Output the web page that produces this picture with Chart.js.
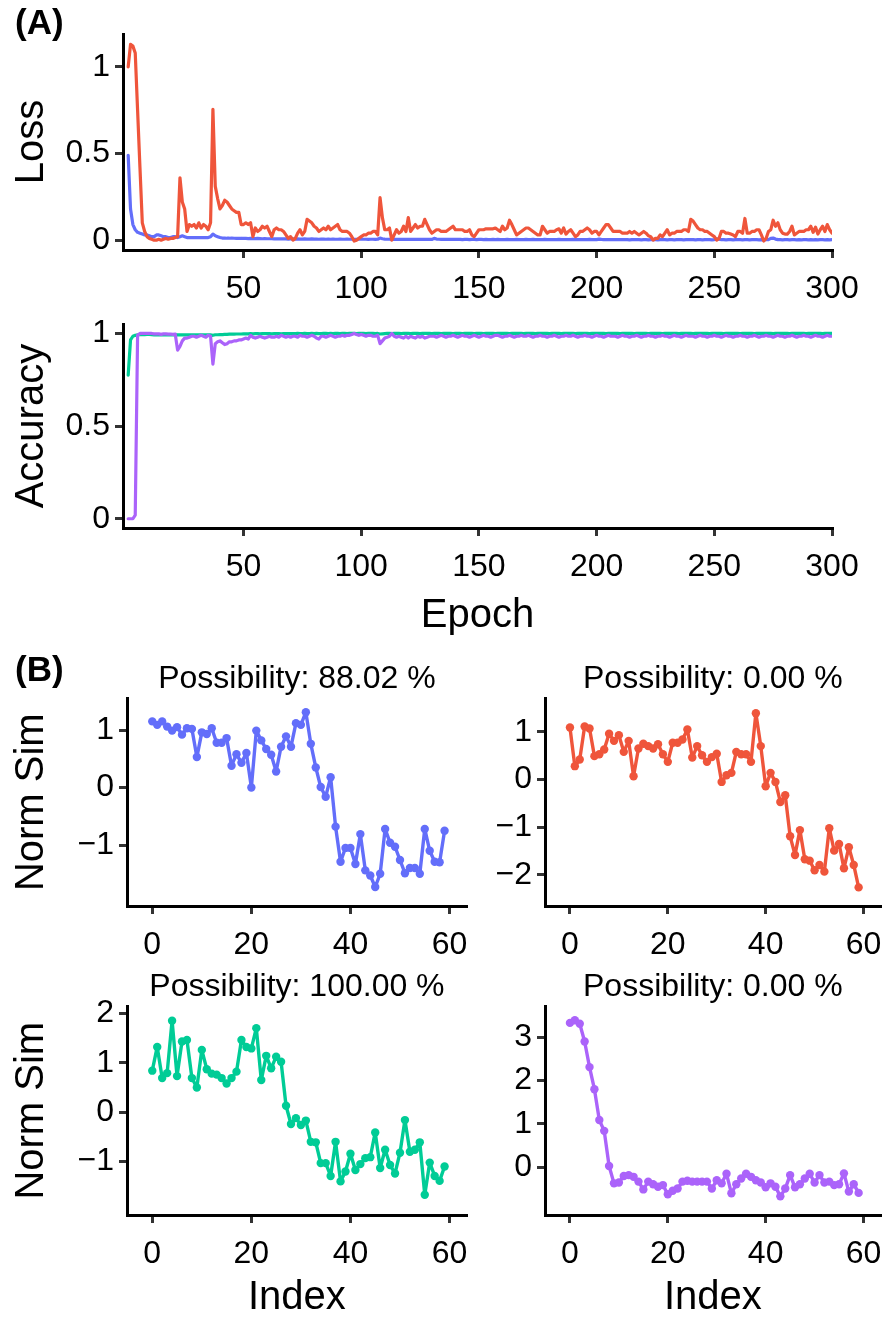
<!DOCTYPE html>
<html>
<head>
<meta charset="utf-8">
<script src="https://cdn.jsdelivr.net/npm/chart.js@4.4.1/dist/chart.umd.min.js"></script>
<style>
  html, body { margin: 0; padding: 0; background: #fff; }
  body { width: 894px; height: 1322px; position: relative; overflow: hidden; font-family: 'Liberation Sans', Arial, sans-serif; }
  canvas { position: absolute; }
  .tag { position: absolute; font-weight: bold; font-size: 35px; line-height: 35px; color: #000; z-index: 2; }
</style>
</head>
<body>
<canvas id="lossChart" width="894" height="300" style="left:0;top:0"></canvas>
<canvas id="accChart" width="894" height="340" style="left:0;top:300px"></canvas>
<canvas id="simChart1" width="480" height="320" style="left:0;top:640px"></canvas>
<canvas id="simChart2" width="414" height="320" style="left:480px;top:640px"></canvas>
<canvas id="simChart3" width="480" height="362" style="left:0;top:960px"></canvas>
<canvas id="simChart4" width="414" height="362" style="left:480px;top:960px"></canvas>
<div class="tag" style="left:15px;top:4px">(A)</div>
<div class="tag" style="left:15px;top:651px">(B)</div>
<script>
// (A) 学習曲線: エポックごとの値
const lossVal = [
  1.0, 1.13, 1.12, 1.08, 0.75, 0.42, 0.1, 0.05, 0.02, 0.01,
  0.005, 0.0, 0.0, 0.005, 0.0, 0.005, 0.01, 0.005, 0.01, 0.01,
  0.015, 0.02, 0.36, 0.22, 0.18, 0.05, 0.09, 0.08, 0.09, 0.07,
  0.1, 0.07, 0.09, 0.08, 0.06, 0.1, 0.755, 0.31, 0.24, 0.18,
  0.2, 0.23, 0.22, 0.2, 0.18, 0.17, 0.16, 0.16, 0.09, 0.09,
  0.1, 0.09, 0.1, 0.02, 0.07, 0.05, 0.06, 0.08, 0.07, 0.08,
  0.05, 0.02, 0.06, 0.07, 0.06, 0.06, 0.05, 0.03, 0.01, 0.02,
  0.0, 0.01, 0.04, 0.06, 0.03, 0.05, 0.12, 0.11, 0.1, 0.08,
  0.07, 0.05, 0.06, 0.07, 0.06, 0.08, 0.06, 0.07, 0.08, 0.09,
  0.06, 0.05, 0.05, 0.05, 0.04, 0.02, -0.005, 0.0, 0.01, 0.02,
  0.03, 0.03, 0.04, 0.04, 0.05, 0.05, 0.03, 0.245, 0.13, 0.06,
  0.06, 0.07, 0.0, 0.03, 0.06, 0.04, 0.05, 0.08, 0.05, 0.13,
  0.05, 0.07, 0.09, 0.07, 0.08, 0.08, 0.12, 0.09, 0.06, 0.04,
  0.05, 0.06, 0.06, 0.05, 0.05, 0.05, 0.06, 0.07, 0.08, 0.06,
  0.06, 0.06, 0.06, 0.05, 0.05, 0.06, 0.03, 0.02, 0.04, 0.06,
  0.06, 0.06, 0.065, 0.065, 0.065, 0.065, 0.07, 0.06, 0.05, 0.08,
  0.06, 0.07, 0.115, 0.09, 0.06, 0.03, 0.04, 0.05, 0.06, 0.07,
  0.07, 0.06, 0.05, 0.04, 0.03, 0.03, 0.08, 0.06, 0.04, 0.05,
  0.05, 0.05, 0.06, 0.065, 0.04, 0.07, 0.035, 0.05, 0.06, 0.04,
  0.02, 0.03, 0.05, 0.05, 0.06, 0.07, 0.06, 0.04, 0.05, 0.05,
  0.03, 0.05, 0.07, 0.09, 0.09, 0.07, 0.05, 0.05, 0.05, 0.05,
  0.04, 0.04, 0.04, 0.05, 0.04, 0.05, 0.04, 0.03, 0.04, 0.05,
  0.04, 0.025, 0.02, 0.0, 0.01, 0.01, 0.03, 0.02, 0.04, 0.06,
  0.03, 0.04, 0.04, 0.05, 0.05, 0.05, 0.06, 0.06, 0.05, 0.12,
  0.11, 0.09, 0.07, 0.06, 0.06, 0.05, 0.05, 0.04, 0.03, 0.02,
  0.0, 0.01, 0.05, 0.05, 0.04, 0.04, 0.035, 0.03, 0.02, 0.05,
  0.05, 0.04, 0.125, 0.04, 0.04, 0.05, 0.05, 0.06, 0.06, 0.03,
  -0.005, 0.01, 0.05, 0.06, 0.115, 0.08, 0.1, 0.06, 0.04, 0.035,
  0.035, 0.05, 0.08, 0.03, 0.04, 0.05, 0.05, 0.05, 0.06, 0.06,
  0.08, 0.045, 0.075, 0.035, 0.06, 0.08, 0.05, 0.09, 0.06, 0.04
];
const lossTrain = [
  0.49, 0.18, 0.09, 0.06, 0.045, 0.04, 0.035, 0.03, 0.03, 0.025,
  0.02, 0.02, 0.03, 0.03, 0.025, 0.02, 0.02, 0.015, 0.015, 0.02,
  0.02, 0.015, 0.02, 0.025, 0.02, 0.015, 0.015, 0.015, 0.015, 0.015,
  0.015, 0.015, 0.015, 0.015, 0.015, 0.02, 0.035, 0.025, 0.02, 0.015,
  0.012, 0.012, 0.011, 0.011, 0.012, 0.011, 0.01, 0.01, 0.011, 0.01,
  0.01, 0.009, 0.01, 0.009, 0.009, 0.01, 0.009, 0.008, 0.009, 0.008,
  0.008, 0.008, 0.007, 0.008, 0.007, 0.007, 0.008, 0.007, 0.006, 0.007,
  0.007, 0.006, 0.007, 0.006, 0.006, 0.007, 0.006, 0.006, 0.007, 0.006,
  0.006, 0.005, 0.006, 0.006, 0.005, 0.006, 0.005, 0.006, 0.005, 0.005,
  0.006, 0.005, 0.005, 0.006, 0.005, 0.005, 0.004, 0.005, 0.005, 0.006,
  0.005, 0.005, 0.004, 0.005, 0.005, 0.004, 0.005, 0.012, 0.008, 0.006,
  0.005, 0.005, 0.004, 0.005, 0.004, 0.005, 0.004, 0.004, 0.005, 0.004,
  0.004, 0.005, 0.004, 0.004, 0.005, 0.004, 0.004, 0.004, 0.005, 0.004,
  0.01, 0.006, 0.005, 0.004, 0.004, 0.004, 0.005, 0.004, 0.004, 0.004,
  0.004, 0.004, 0.003, 0.004, 0.004, 0.003, 0.004, 0.004, 0.003, 0.004,
  0.004, 0.003, 0.004, 0.003, 0.003, 0.004, 0.003, 0.004, 0.003, 0.003,
  0.003, 0.004, 0.003, 0.003, 0.003, 0.004, 0.003, 0.003, 0.003, 0.004,
  0.003, 0.003, 0.004, 0.003, 0.003, 0.003, 0.003, 0.004, 0.003, 0.003,
  0.003, 0.003, 0.003, 0.004, 0.003, 0.003, 0.003, 0.003, 0.003, 0.004,
  0.003, 0.003, 0.003, 0.003, 0.003, 0.003, 0.004, 0.003, 0.003, 0.003,
  0.006, 0.004, 0.003, 0.003, 0.003, 0.003, 0.003, 0.003, 0.003, 0.003,
  0.003, 0.003, 0.003, 0.002, 0.003, 0.003, 0.003, 0.003, 0.002, 0.003,
  0.003, 0.002, 0.003, 0.003, 0.003, 0.002, 0.003, 0.003, 0.003, 0.002,
  0.003, 0.003, 0.002, 0.003, 0.003, 0.003, 0.002, 0.003, 0.003, 0.003,
  0.003, 0.002, 0.003, 0.003, 0.002, 0.003, 0.003, 0.003, 0.002, 0.003,
  0.008, 0.005, 0.003, 0.003, 0.002, 0.003, 0.003, 0.002, 0.003, 0.003,
  0.003, 0.002, 0.003, 0.003, 0.002, 0.003, 0.003, 0.003, 0.002, 0.003,
  0.002, 0.003, 0.003, 0.01, 0.012, 0.006, 0.003, 0.003, 0.002, 0.003,
  0.003, 0.002, 0.003, 0.003, 0.002, 0.003, 0.002, 0.003, 0.003, 0.002,
  0.003, 0.002, 0.003, 0.002, 0.003, 0.003, 0.002, 0.003, 0.002, 0.003
];
const accTrain = [
  0.775, 0.965, 0.985, 0.99, 0.992, 0.993, 0.994, 0.994, 0.995, 0.995,
  0.993, 0.992, 0.993, 0.992, 0.992, 0.993, 0.992, 0.993, 0.992, 0.992,
  0.993, 0.992, 0.992, 0.993, 0.992, 0.993, 0.992, 0.992, 0.993, 0.992,
  0.992, 0.993, 0.992, 0.992, 0.993, 0.992, 0.99, 0.993, 0.993, 0.994,
  0.994, 0.995, 0.995, 0.996, 0.996, 0.996, 0.997, 0.997, 0.997, 0.998,
  0.998, 0.998, 0.999, 0.998, 0.999, 0.999, 0.998, 0.999, 0.999, 0.999,
  0.999, 0.998, 0.999, 0.999, 0.999, 0.998, 0.999, 0.999, 0.999, 0.999,
  0.999, 0.999, 1.0, 0.999, 0.999, 1.0, 0.999, 0.999, 1.0, 0.999,
  1.0, 0.999, 0.999, 1.0, 1.0, 0.999, 1.0, 0.999, 1.0, 1.0,
  0.999, 1.0, 1.0, 0.999, 1.0, 1.0, 1.0, 0.999, 1.0, 1.0,
  1.0, 0.999, 1.0, 1.0, 1.0, 0.999, 1.0, 0.997, 0.998, 0.999,
  1.0, 1.0, 0.999, 1.0, 1.0, 1.0, 0.999, 1.0, 1.0, 1.0,
  0.999, 1.0, 1.0, 1.0, 0.999, 1.0, 1.0, 1.0, 1.0, 0.999,
  1.0, 1.0, 1.0, 0.999, 1.0, 1.0, 1.0, 1.0, 0.999, 1.0,
  1.0, 1.0, 0.999, 1.0, 1.0, 1.0, 1.0, 0.999, 1.0, 1.0,
  1.0, 0.999, 1.0, 1.0, 1.0, 1.0, 0.999, 1.0, 1.0, 1.0,
  1.0, 1.0, 0.999, 1.0, 1.0, 1.0, 1.0, 1.0, 0.999, 1.0,
  1.0, 1.0, 1.0, 0.999, 1.0, 1.0, 1.0, 1.0, 1.0, 0.999,
  1.0, 1.0, 1.0, 1.0, 0.999, 1.0, 1.0, 1.0, 1.0, 1.0,
  0.999, 1.0, 1.0, 1.0, 1.0, 1.0, 0.999, 1.0, 1.0, 1.0,
  1.0, 1.0, 1.0, 0.999, 1.0, 1.0, 1.0, 1.0, 1.0, 0.999,
  1.0, 1.0, 1.0, 1.0, 1.0, 0.999, 1.0, 1.0, 1.0, 1.0,
  1.0, 0.999, 1.0, 1.0, 1.0, 1.0, 1.0, 0.999, 1.0, 1.0,
  1.0, 1.0, 1.0, 1.0, 0.999, 1.0, 1.0, 1.0, 1.0, 1.0,
  0.999, 1.0, 1.0, 1.0, 1.0, 1.0, 1.0, 0.999, 1.0, 1.0,
  1.0, 1.0, 1.0, 0.999, 1.0, 1.0, 1.0, 1.0, 1.0, 1.0,
  0.999, 1.0, 1.0, 1.0, 1.0, 1.0, 0.999, 1.0, 1.0, 1.0,
  1.0, 1.0, 1.0, 1.0, 0.999, 1.0, 1.0, 1.0, 1.0, 1.0,
  1.0, 0.999, 1.0, 1.0, 1.0, 1.0, 1.0, 1.0, 0.999, 1.0,
  1.0, 1.0, 1.0, 1.0, 1.0, 0.999, 1.0, 1.0, 1.0, 1.0
];
const accVal = [
  0, 0, 0, 0.02, 0.99, 1.0, 1.0, 1.0, 1.0, 1.0,
  1.0, 0.998, 0.998, 0.998, 0.995, 0.998, 0.998, 0.996, 0.996, 0.995,
  0.996, 0.91, 0.93, 0.96, 0.975, 0.975, 0.98, 0.985, 0.985, 0.98,
  0.985, 0.99, 0.985, 0.98, 0.99, 0.985, 0.835, 0.945, 0.955, 0.96,
  0.95, 0.94, 0.945, 0.955, 0.955, 0.96, 0.96, 0.965, 0.965, 0.97,
  0.975, 0.97, 0.99, 0.98, 0.975, 0.98, 0.985, 0.98, 0.975, 0.98,
  0.985, 0.98, 0.98, 0.985, 0.98, 0.99, 0.985, 0.98, 0.985, 0.98,
  0.985, 0.985, 0.98, 0.99, 0.985, 0.985, 0.98, 0.985, 0.99, 0.985,
  0.975, 0.97, 0.985, 0.985, 0.98, 0.985, 0.99, 0.985, 0.98, 0.985,
  0.985, 0.99, 0.985, 0.99, 0.99, 0.995, 1.0, 0.995, 0.99, 0.995,
  0.99, 0.985, 0.99, 0.99, 0.985, 0.985, 0.99, 0.945, 0.96, 0.975,
  0.98, 0.985, 1.0, 0.985, 0.98, 0.985, 0.98, 0.975, 0.985, 0.975,
  0.985, 0.98, 0.975, 0.985, 0.98, 0.985, 0.975, 0.98, 0.985, 0.985,
  0.985, 0.98, 0.985, 0.99, 0.985, 0.98, 0.985, 0.985, 0.99, 0.985,
  0.98, 0.985, 0.99, 0.985, 0.985, 0.98, 0.985, 0.99, 0.985, 0.98,
  0.985, 0.99, 0.985, 0.985, 0.98, 0.985, 0.99, 0.99, 0.985, 0.98,
  0.985, 0.985, 0.99, 0.985, 0.98, 0.985, 0.985, 0.99, 0.985, 0.985,
  0.99, 0.985, 0.98, 0.985, 0.985, 0.99, 0.985, 0.985, 0.98, 0.985,
  0.985, 0.99, 0.985, 0.98, 0.985, 0.985, 0.99, 0.985, 0.985, 0.99,
  0.985, 0.98, 0.985, 0.985, 0.99, 0.985, 0.985, 0.98, 0.985, 0.99,
  0.985, 0.985, 0.98, 0.985, 0.99, 0.985, 0.985, 0.985, 0.98, 0.985,
  0.99, 0.985, 0.985, 0.98, 0.985, 0.985, 0.99, 0.985, 0.98, 0.985,
  0.985, 0.99, 0.985, 0.985, 0.98, 0.985, 0.985, 0.99, 0.985, 0.985,
  0.98, 0.985, 0.99, 0.985, 0.985, 0.98, 0.985, 0.99, 0.985, 0.985,
  0.985, 0.98, 0.985, 0.99, 0.985, 0.985, 0.98, 0.985, 0.985, 0.99,
  0.985, 0.985, 0.98, 0.985, 0.99, 0.985, 0.985, 0.98, 0.985, 0.985,
  0.99, 0.985, 0.985, 0.98, 0.985, 0.985, 0.99, 0.985, 0.98, 0.985,
  0.985, 0.99, 0.985, 0.985, 0.98, 0.985, 0.99, 0.985, 0.985, 0.98,
  0.985, 0.985, 0.99, 0.985, 0.98, 0.985, 0.985, 0.99, 0.985, 0.985,
  0.98, 0.985, 0.99, 0.985, 0.985, 0.98, 0.985, 0.99, 0.985, 0.985
];
const epochTicks = [50, 100, 150, 200, 250, 300];
const lossTicks = [0, 0.5, 1];
const accTicks = [0, 0.5, 1];

// (B) 類似度 (60点)
const simTitles = ['Possibility: 88.02 %', 'Possibility: 0.00 %', 'Possibility: 100.00 %', 'Possibility: 0.00 %'];
const sim1 = [
  1.15, 1.09, 1.15, 1.06, 0.99, 1.05, 0.92, 1.03, 1.02, 0.53,
  0.96, 0.93, 1.03, 0.78, 0.78, 0.86, 0.38, 0.58, 0.43, 0.60,
  0.0, 0.99, 0.82, 0.67, 0.57, 0.28, 0.71, 0.89, 0.71, 1.12,
  1.09, 1.31, 0.76, 0.35, 0.01, -0.16, 0.18, -0.68, -1.29, -1.05,
  -1.05, -1.33, -0.81, -1.44, -1.53, -1.73, -1.5, -0.72, -0.96, -1.03,
  -1.26, -1.49, -1.40, -1.40, -1.50, -0.72, -1.10, -1.29, -1.30, -0.75
];
const sim2 = [
  1.09, 0.28, 0.42, 1.11, 1.07, 0.49, 0.53, 0.63, 0.96, 0.81,
  0.93, 0.58, 0.81, 0.07, 0.65, 0.75, 0.70, 0.65, 0.74, 0.53,
  0.37, 0.77, 0.77, 0.84, 1.05, 0.46, 0.70, 0.51, 0.37, 0.47,
  0.54, -0.05, 0.09, 0.14, 0.58, 0.53, 0.53, 0.37, 1.39, 0.70,
  -0.14, 0.14, -0.05, -0.47, -0.33, -1.19, -1.58, -1.06, -1.67, -1.70,
  -1.90, -1.79, -1.93, -1.02, -1.49, -1.35, -1.86, -1.42, -1.79, -2.26
];
const sim3 = [
  0.84, 1.32, 0.69, 0.79, 1.85, 0.73, 1.43, 1.46, 0.69, 0.50,
  1.26, 0.87, 0.78, 0.76, 0.69, 0.58, 0.69, 0.82, 1.46, 1.32,
  1.29, 1.70, 0.65, 1.14, 0.89, 1.12, 1.02, 0.13, -0.24, -0.12,
  -0.26, -0.17, -0.60, -0.61, -1.03, -1.03, -1.29, -0.60, -1.40, -1.20,
  -0.84, -1.17, -1.05, -0.93, -0.91, -0.41, -1.13, -0.76, -1.07, -1.24,
  -0.82, -0.16, -0.80, -0.76, -0.61, -1.67, -1.02, -1.29, -1.39, -1.10
];
const sim4 = [
  3.33, 3.39, 3.31, 2.90, 2.31, 1.80, 1.09, 0.84, 0.03, -0.37,
  -0.35, -0.20, -0.18, -0.22, -0.33, -0.51, -0.33, -0.39, -0.45, -0.41,
  -0.62, -0.54, -0.49, -0.33, -0.31, -0.33, -0.33, -0.33, -0.33, -0.49,
  -0.30, -0.37, -0.15, -0.60, -0.39, -0.26, -0.15, -0.22, -0.30, -0.35,
  -0.46, -0.37, -0.45, -0.67, -0.49, -0.18, -0.46, -0.39, -0.26, -0.15,
  -0.35, -0.18, -0.35, -0.33, -0.41, -0.39, -0.14, -0.56, -0.39, -0.59
];
const indexTicks = [0, 20, 40, 60];
const simTicks1 = [-1, 0, 1];
const simTicks2 = [-2, -1, 0, 1];
const simTicks3 = [-1, 0, 1, 2];
const simTicks4 = [0, 1, 2, 3];

const BLUE = '#636EFA', RED = '#EF553B', GREEN = '#00CC96', PURPLE = '#AB63FA';

Chart.defaults.font.family = "'Liberation Sans', Arial, sans-serif";
Chart.defaults.color = '#000';

const tickFont = { size: 32 };
const titleFont = { size: 40 };

function minus(v) {
    return String(v).replace('-', '\u2212');
}

function xy(values) {
    return values.map((v, i) => ({ x: i, y: v }));
}
function xyEpoch(values) {
    return values.map((v, i) => ({ x: i + 1, y: v }));
}

// 軸の共通設定 (afterFitで幅・高さを固定)
function makeAxis(o) {
    const horizontal = o.pos === 'bottom';
    return {
        type: 'linear',
        position: o.pos,
        min: o.min,
        max: o.max,
        afterBuildTicks: s => { s.ticks = o.ticks.map(v => ({ value: v })); },
        afterFit: s => { if (horizontal) s.height = o.size; else s.width = o.size; },
        border: { display: true, color: '#000', width: 3 },
        grid: { drawOnChartArea: false, drawTicks: true, tickLength: 8, color: '#333', lineWidth: 3 },
        ticks: { font: tickFont, padding: horizontal ? 12 : 5, maxRotation: 0, autoSkip: false, callback: minus },
        title: o.title
            ? { display: true, text: o.title, font: titleFont, padding: horizontal ? { top: 0, bottom: o.titlePad } : { top: o.titlePad, bottom: 0 } }
            : { display: false }
    };
}

function baseOptions(x, y, padding, title) {
    return {
        responsive: false,
        animation: false,
        events: [],
        layout: { padding: padding },
        plugins: {
            legend: { display: false },
            tooltip: { enabled: false },
            title: title
                ? { display: true, text: title.text, fullSize: false, color: '#000', font: { size: 32, weight: 'normal' }, padding: { top: title.top, bottom: title.bottom } }
                : { display: false }
        },
        scales: { x: makeAxis(x), y: makeAxis(y) }
    };
}

function lineSet(values, color, epoch) {
    return {
        data: epoch ? xyEpoch(values) : xy(values),
        borderColor: color,
        backgroundColor: color,
        borderWidth: epoch ? 3.2 : 3.4,
        borderJoinStyle: 'round',
        borderCapStyle: 'round',
        pointRadius: epoch ? 0 : 4.2,
        pointBorderWidth: 0,
        tension: 0
    };
}

// Loss
new Chart(document.getElementById('lossChart'), {
    type: 'line',
    data: { datasets: [lineSet(lossVal, RED, true), lineSet(lossTrain, BLUE, true)] },
    options: baseOptions(
        { pos: 'bottom', min: -1.2, max: 300, ticks: epochTicks, size: 50 },
        { pos: 'left', min: -0.057, max: 1.19, ticks: lossTicks, size: 123, title: 'Loss', titlePad: 8 },
        { top: 34, right: 62, bottom: 0, left: 0 }
    )
});

// Accuracy
new Chart(document.getElementById('accChart'), {
    type: 'line',
    data: { datasets: [lineSet(accVal, PURPLE, true), lineSet(accTrain, GREEN, true)] },
    options: baseOptions(
        { pos: 'bottom', min: -1.2, max: 300, ticks: epochTicks, size: 112, title: 'Epoch', titlePad: 0 },
        { pos: 'left', min: -0.05, max: 1.05, ticks: accTicks, size: 123, title: 'Accuracy', titlePad: 8 },
        { top: 12, right: 62, bottom: 0, left: 0 }
    )
});

// Norm Sim 4枚
new Chart(document.getElementById('simChart1'), {
    type: 'line',
    data: { datasets: [lineSet(sim1, BLUE, false)] },
    options: baseOptions(
        { pos: 'bottom', min: -5.1, max: 63.5, ticks: indexTicks, size: 54 },
        { pos: 'left', min: -2.06, max: 1.55, ticks: simTicks1, size: 127, title: 'Norm Sim', titlePad: 8 },
        { top: 0, right: 8, bottom: 0, left: 0 },
        { text: simTitles[0], top: 20, bottom: 0 }
    )
});

new Chart(document.getElementById('simChart2'), {
    type: 'line',
    data: { datasets: [lineSet(sim2, RED, false)] },
    options: baseOptions(
        { pos: 'bottom', min: -5.1, max: 63.5, ticks: indexTicks, size: 54 },
        { pos: 'left', min: -2.65, max: 1.70, ticks: simTicks2, size: 65 },
        { top: 0, right: 4, bottom: 0, left: 0 },
        { text: simTitles[1], top: 20, bottom: 0 }
    )
});

new Chart(document.getElementById('simChart3'), {
    type: 'line',
    data: { datasets: [lineSet(sim3, GREEN, false)] },
    options: baseOptions(
        { pos: 'bottom', min: -5.1, max: 63.5, ticks: indexTicks, size: 107, title: 'Index', titlePad: 0 },
        { pos: 'left', min: -2.08, max: 2.14, ticks: simTicks3, size: 127, title: 'Norm Sim', titlePad: 8 },
        { top: 0, right: 8, bottom: 0, left: 0 },
        { text: simTitles[2], top: 8, bottom: 0 }
    )
});

new Chart(document.getElementById('simChart4'), {
    type: 'line',
    data: { datasets: [lineSet(sim4, PURPLE, false)] },
    options: baseOptions(
        { pos: 'bottom', min: -5.1, max: 63.5, ticks: indexTicks, size: 107, title: 'Index', titlePad: 0 },
        { pos: 'left', min: -1.10, max: 3.71, ticks: simTicks4, size: 65 },
        { top: 0, right: 4, bottom: 0, left: 0 },
        { text: simTitles[3], top: 8, bottom: 0 }
    )
});
</script>
</body>
</html>
